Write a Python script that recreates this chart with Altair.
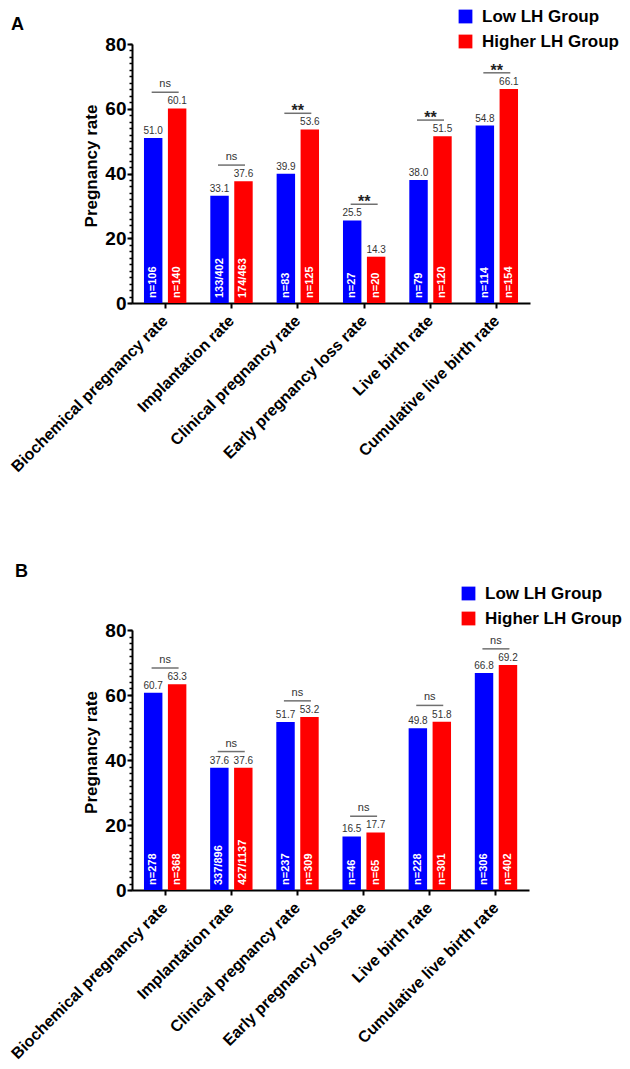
import altair as alt
import pandas as pd

F = "Liberation Sans, Arial, sans-serif"
FN = "Liberation Sans Narrow, Arial Narrow, Liberation Sans, sans-serif"

categories = ["Biochemical pregnancy rate", "Implantation rate", "Clinical pregnancy rate",
              "Early pregnancy loss rate", "Live birth rate", "Cumulative live birth rate"]
groups = ["Low LH Group", "Higher LH Group"]
colors = ["#0000ff", "#ff0000"]
y_ticks = [0, 20, 40, 60, 80]
y_minor = list(range(0, 81, 2))

# Panel A
a_low = [51.0, 33.1, 39.9, 25.5, 38.0, 54.8]
a_high = [60.1, 37.6, 53.6, 14.3, 51.5, 66.1]
a_n_low = ["n=106", "133/402", "n=83", "n=27", "n=79", "n=114"]
a_n_high = ["n=140", "174/463", "n=125", "n=20", "n=120", "n=154"]
a_sig = ["ns", "ns", "**", "**", "**", "**"]

# Panel B
b_low = [60.7, 37.6, 51.7, 16.5, 49.8, 66.8]
b_high = [63.3, 37.6, 53.2, 17.7, 51.8, 69.2]
b_n_low = ["n=278", "337/896", "n=237", "n=46", "n=228", "n=306"]
b_n_high = ["n=368", "427/1137", "n=309", "n=65", "n=301", "n=402"]
b_sig = ["ns", "ns", "ns", "ns", "ns", "ns"]


def panel(letter, low, high, nlow, nhigh, sig, width, height, legend_x, legend_y, title_dx, title_dy):
    rows = []
    for c, v, n in zip(categories, low, nlow):
        rows.append({"cat": c, "grp": groups[0], "val": v, "n": n})
    for c, v, n in zip(categories, high, nhigh):
        rows.append({"cat": c, "grp": groups[1], "val": v, "n": n})
    df = pd.DataFrame(rows)
    sdf = pd.DataFrame({"cat": categories,
                        "top": [max(l, h) + 5 for l, h in zip(low, high)],
                        "sig": sig})

    x = alt.X("cat:N", sort=categories,
              scale=alt.Scale(paddingInner=0, paddingOuter=0),
              axis=alt.Axis(title=None, labelAngle=-45, labelAlign="right", labelBaseline="middle",
                            labelFont=F, labelFontSize=16, labelFontWeight="bold", labelColor="black",
                            labelPadding=10, labelLimit=0, tickSize=5, tickWidth=2, tickColor="black",
                            domainColor="black", domainWidth=2, grid=False))
    xo = alt.XOffset("grp:N", sort=groups, scale=alt.Scale(paddingInner=0.23, paddingOuter=0.5))
    yscale = alt.Scale(domain=[0, 80], nice=False)
    y_major = alt.Y("val:Q", scale=yscale,
                    axis=alt.Axis(values=y_ticks, title="Pregnancy rate", titleFont=F, titleFontSize=17,
                                  titleFontWeight="bold", titleColor="black", titlePadding=4,
                                  titleY=height / 2 - 8,
                                  labelFont=F, labelFontSize=19, labelFontWeight="bold",
                                  labelColor="black", labelPadding=1, tickSize=5, tickWidth=2,
                                  tickColor="black", domainColor="black", domainWidth=2, grid=False))

    base = alt.Chart(df)
    bars = base.mark_bar().encode(
        x=x, xOffset=xo, y=y_major,
        color=alt.Color("grp:N", sort=groups, scale=alt.Scale(domain=groups, range=colors),
                        legend=alt.Legend(title=None, orient="none", legendX=legend_x, legendY=legend_y,
                                          symbolType="square", symbolSize=190, symbolStrokeWidth=0,
                                          labelFont=F, labelFontSize=17, labelFontWeight="bold",
                                          labelColor="black", labelOffset=8, rowPadding=7, padding=0)))
    vals = base.mark_text(font=FN, fontSize=10, color="#333333", baseline="alphabetic", dy=-4).encode(
        x=x, xOffset=xo, y=alt.Y("val:Q", scale=yscale, axis=None),
        text=alt.Text("val:Q", format=".1f"))
    ns = base.mark_text(font=F, fontSize=11, fontWeight="bold", color="white", angle=270,
                        align="left", baseline="middle", dx=5).encode(
        x=x, xOffset=xo, y=alt.Y(datum=0, scale=yscale, axis=None), text="n:N")

    sbase = alt.Chart(sdf)
    lines = sbase.mark_tick(size=27, thickness=1.5, color="#333333").encode(
        x=x, y=alt.Y("top:Q", scale=yscale,
                      axis=alt.Axis(values=y_minor, labels=False, title=None, tickSize=3, tickWidth=1.5,
                                    tickColor="black", domain=False, grid=False, orient="left")))
    t_ns = sbase.transform_filter(alt.datum.sig == "ns").mark_text(
        font=FN, fontSize=11, color="#333333", baseline="alphabetic", dy=-5).encode(
        x=x, y=alt.Y("top:Q", scale=yscale, axis=None), text="sig:N")
    t_st = sbase.transform_filter(alt.datum.sig != "ns").mark_text(
        font=F, fontSize=16, fontWeight="bold", color="#222222", baseline="alphabetic", dy=3).encode(
        x=x, y=alt.Y("top:Q", scale=yscale, axis=None), text="sig:N")

    return alt.layer(bars, vals, ns, lines, t_ns, t_st).resolve_axis(y="independent").properties(
        width=width, height=height,
        title=alt.TitleParams(letter, anchor="start", frame="group", dx=title_dx, dy=title_dy,
                              font=F, fontSize=18, fontWeight="bold", color="black"))


pa = panel("A", a_low, a_high, a_n_low, a_n_high, a_sig, 398, 259, 325, -36, -121, 30)
pb = panel("B", b_low, b_high, b_n_low, b_n_high, b_sig, 397, 260, 328, -45, -117, 0)

chart = (alt.vconcat(pa, pb, spacing=88)
         .resolve_scale(color="independent")
         .resolve_legend(color="independent")
         .properties(padding=0, background="white")
         .configure_view(stroke=None))
chart.save("out.html", embed_options={"renderer": "svg", "actions": False})
